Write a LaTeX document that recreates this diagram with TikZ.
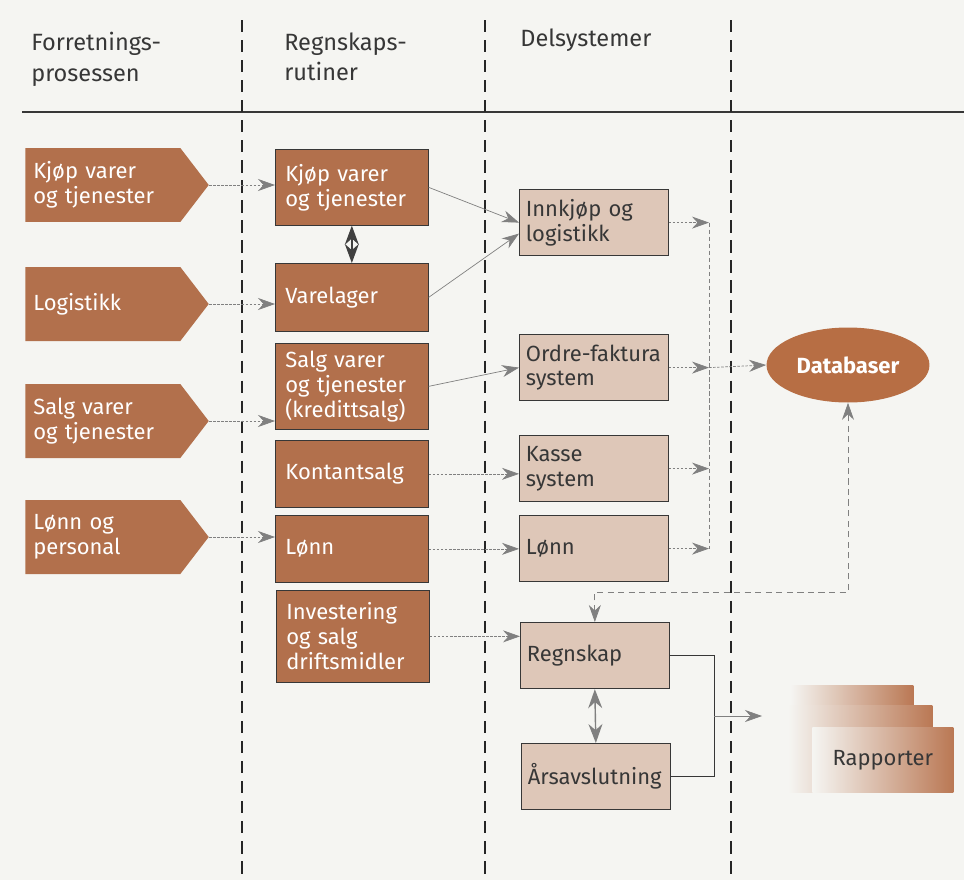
\documentclass[tikz,border=0pt]{standalone}
\usepackage{fontspec}
\setmainfont{Fira Sans}
\usepackage{tikz}
\usetikzlibrary{arrows.meta,calc,shapes.geometric,shapes.symbols}
\definecolor{pagebg}{RGB}{245,245,242}
\definecolor{brun}{RGB}{178,112,76}
\definecolor{lysbrun}{RGB}{222,199,184}
\definecolor{dbbrun}{RGB}{183,110,68}
\definecolor{rapbrun}{RGB}{186,120,84}
\definecolor{tekst}{RGB}{55,55,55}
\definecolor{pil}{RGB}{128,128,128}
\newcommand{\boxfont}{\fontsize{12.5}{14.2}\selectfont}
\newcommand{\headfont}{\fontsize{13.4}{17.6}\selectfont}
\tikzset{
  head/.style={anchor=north west, align=left, inner sep=0pt, text=tekst, font=\headfont},
  prosess/.style={signal, signal to=east, signal pointer angle=105, fill=brun, text=white, align=left, text width=2.78cm, minimum height=1.48cm, inner xsep=0.16cm, font=\boxfont, anchor=west},
  rutine/.style={draw=tekst, fill=brun, text=white, align=left, text width=2.66cm, minimum width=3.06cm, inner xsep=0.2cm, font=\boxfont, anchor=north west},
  delsys/.style={draw=tekst, fill=lysbrun, text=tekst, align=left, text width=2.72cm, minimum width=2.98cm, minimum height=1.33cm, inner xsep=0.13cm, font=\boxfont, anchor=north west},
  base/.style={ellipse, fill=dbbrun, text=white, minimum width=3.26cm, minimum height=1.5cm, font=\boxfont\bfseries},
  rapport/.style={rectangle, left color=pagebg, right color=rapbrun, anchor=north west, inner sep=0pt},
  kolonne/.style={draw=black!85, line width=1.5pt, dash pattern=on 7pt off 4.4pt},
  link/.style={draw=pil, -{Stealth[length=3.4mm,width=2.4mm]}},
  prikk/.style={link, dash pattern=on 1.5pt off 0.8pt},
  samle/.style={draw=pil, dash pattern=on 2.5pt off 1.5pt},
  dbpil/.style={draw=pil, {Stealth[length=3.4mm,width=2.4mm]}-{Stealth[length=3.4mm,width=2.4mm]}, dash pattern=on 3.5pt off 2.5pt},
  dobbel/.style={line width=0.8pt, {Stealth[length=3.8mm,width=2.8mm]}-{Stealth[length=3.8mm,width=2.8mm]}}
}

\begin{document}
\begin{tikzpicture}[x=0.02cm,y=-0.02cm]
  \useasboundingbox (0,0) rectangle (964,880);
  \fill[pagebg] (0,0) rectangle (964,880);

  % headings and column lines
  \node[head] (h1) at (31,32) {Forretnings-\\prosessen};
  \node[head] (h2) at (284,32) {Regnskaps-\\rutiner};
  \node[head] (h3) at (520,28) {Delsystemer};
  \draw[tekst, line width=0.8pt] (22,112) -- (964,112);
  \foreach \x in {242,485,731} {\draw[kolonne] (\x,20) -- (\x,880);}

  % business processes
  \node[prosess] (p1) at (25,185) {Kjøp varer\\og tjenester};
  \node[prosess] (p2) at (25,304) {Logistikk};
  \node[prosess] (p3) at (25,421) {Salg varer\\og tjenester};
  \node[prosess] (p4) at (25,537) {Lønn og\\personal};

  % accounting routines
  \node[rutine, minimum height=1.52cm] (r1) at (275,149) {Kjøp varer\\og tjenester};
  \node[rutine, minimum height=1.36cm] (r2) at (275,263) {Varelager};
  \node[rutine, minimum height=1.72cm] (r3) at (275,343) {Salg varer\\og tjenester\\(kredittsalg)};
  \node[rutine, minimum height=1.34cm] (r4) at (275,440) {Kontantsalg};
  \node[rutine, minimum height=1.34cm] (r5) at (275,515) {Lønn};
  \node[rutine, minimum height=1.84cm] (r6) at (276,590) {Investering\\og salg\\driftsmidler};

  % subsystems
  \node[delsys] (d1) at (519,189) {Innkjøp og\\logistikk};
  \node[delsys] (d2) at (519,334) {Ordre-faktura\\system};
  \node[delsys] (d3) at (519,435) {Kasse\\system};
  \node[delsys] (d4) at (519,515) {Lønn};
  \node[delsys] (d5) at (520,622) {Regnskap};
  \node[delsys] (d6) at (521,743) {Årsavslutning};

  \node[base] (db) at (848,365) {Databaser};

  \node[rapport, minimum width=2.46cm, minimum height=2.14cm] (rp1) at (790,685) {};
  \node[rapport, minimum width=2.88cm, minimum height=1.74cm] (rp2) at (788,705) {};
  \node[rapport, minimum width=2.82cm, minimum height=1.3cm, text=tekst, font=\boxfont] (rp3) at (812,727) {Rapporter};

  \coordinate (bus) at (709,0);
  \coordinate (knekk) at (714,0);
  \coordinate (rpinn) at (762,716);

  \draw[prikk] (p1.east) -- (p1.east -| r1.west);
  \draw[prikk] (p2.east) -- (p2.east -| r2.west);
  \draw[prikk] (p3.east) -- (p3.east -| r3.west);
  \draw[prikk] (p4.east) -- (p4.east -| r5.west);

  \draw[dobbel, draw=black!75, fill=black!75] (r1.south) -- (r2.north);

  \draw[link] (r1.east) -- (d1.west);
  \draw[link] (r2.east) -- ($(d1.west)+(0,11)$);
  \draw[link] (r3.east) -- (d2.west);
  \draw[prikk] (r4.east) -- (r4.east -| d3.west);
  \draw[prikk] (r5.east) -- (r5.east -| d4.west);
  \draw[prikk] (r6.east) -- (r6.east -| d5.west);

  % collecting line to the databases
  \foreach \d in {d1,d2,d3,d4} {\draw[prikk] (\d.east) -- (\d.east -| bus);}
  \draw[samle] (d1.east -| bus) -- (d4.east -| bus);
  \draw[prikk] (d2.east -| bus) -- (db.west);
  \draw[dbpil] (d5.north) -- ++(0,-30) -| (db.south);

  \draw[dobbel, draw=pil, fill=pil] (d5.south) -- (d6.north);
  \draw[tekst, line width=0.5pt] (d5.east) -- (d5.east -| knekk) -- (d6.east -| knekk) -- (d6.east);
  \draw[link] (rpinn -| knekk) -- (rpinn);
\end{tikzpicture}
\end{document}
